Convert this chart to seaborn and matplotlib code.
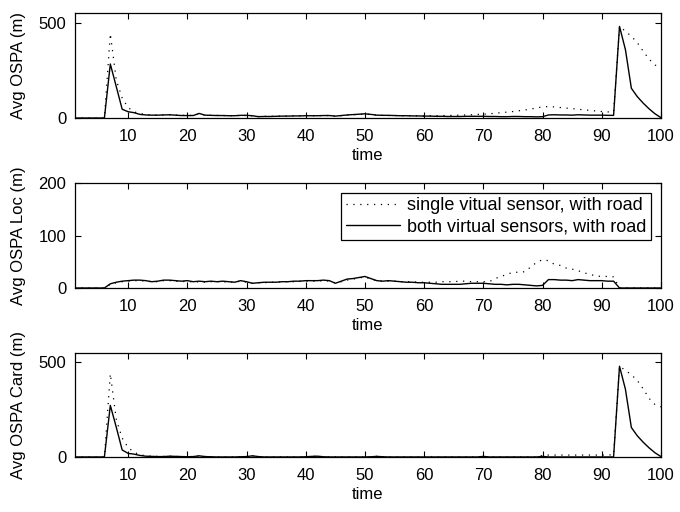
import numpy as np
import pandas as pd
import matplotlib
matplotlib.use("Agg")
import matplotlib.pyplot as plt
import seaborn as sns

# time steps
time = list(range(1, 101))

# Avg OSPA (m)
ospa_single = [
    0, 0, 0, 0, 0, 0,
    442, 200, 105, 55, 32, 24,
    18, 16, 15, 17, 17, 15, 14, 14,
    13, 22, 15, 14, 14, 13, 12, 12, 14, 13,
    11, 8, 9, 9, 10, 10, 11, 11, 12, 12,
    12, 12, 13, 13, 10, 12, 15, 17, 19, 21,
    18, 15, 14, 13, 13, 12, 12, 12, 11, 11,
    12, 12, 13, 13, 14, 15, 16, 17, 19, 20,
    22, 25, 28, 31, 34, 38, 42, 47, 53, 58,
    60, 58, 55, 52, 49, 46, 43, 40, 37, 34, 32, 32,
    480, 455, 428, 395, 350, 308, 278, 262,
]
ospa_both = [
    0, 0, 0, 0, 0, 0,
    283, 165, 46, 33, 28, 19,
    16, 15, 15, 16, 17, 15, 13, 13,
    13, 24, 15, 14, 13, 13, 12, 12, 14, 14,
    12, 7, 8, 8, 9, 10, 10, 11, 11, 12,
    12, 12, 13, 13, 10, 13, 16, 18, 20, 22,
    19, 15, 14, 14, 13, 12, 12, 11, 11, 10,
    10, 9, 9, 8, 8, 8, 9, 9, 9, 9,
    8, 8, 7, 7, 8, 8, 7, 7, 6, 7,
    16, 17, 16, 16, 15, 17, 16, 15, 15, 15, 14, 14,
    480, 358, 156, 112, 78, 48, 22, 2,
]

# Avg OSPA Loc (m)
loc_single = [
    0, 0, 0, 0, 0, 0,
    7, 10, 12, 13, 14, 14,
    13, 12, 12, 14, 14, 13, 12, 13,
    11, 12, 11, 12, 12, 12, 11, 11, 13, 11,
    9, 10, 10, 11, 11, 12, 12, 12, 13, 13,
    13, 13, 14, 13, 10, 12, 15, 17, 19, 21,
    17, 14, 13, 13, 13, 12, 12, 12, 11, 11,
    11, 11, 12, 12, 12, 13, 13, 12, 12, 12,
    12, 18, 22, 26, 30, 30, 31, 40, 49, 54,
    52, 45, 43, 38, 36, 33, 29, 26, 23, 22, 22, 21,
    0, 0, 0, 0, 0, 0, 0, 0,
]
loc_both = [
    0, 0, 0, 0, 0, 0,
    8, 11, 13, 14, 15, 15,
    14, 12, 13, 15, 15, 14, 13, 14,
    12, 13, 12, 13, 12, 13, 12, 11, 14, 12,
    9, 10, 11, 11, 11, 12, 12, 13, 13, 14,
    14, 14, 15, 14, 9, 13, 17, 18, 20, 22,
    18, 14, 13, 14, 13, 12, 11, 11, 10, 10,
    9, 8, 7, 7, 7, 7, 8, 9, 9, 9,
    8, 7, 7, 6, 7, 7, 6, 5, 4, 5,
    16, 16, 15, 15, 14, 16, 15, 14, 14, 14, 13, 13,
    0, 0, 0, 0, 0, 0, 0, 0,
]

# Avg OSPA Card (m)
card_single = [
    0, 0, 0, 0, 0, 0,
    440, 200, 100, 50, 25, 12,
    6, 4, 3, 3, 4, 3, 2, 2,
    2, 5, 2, 1, 1, 0, 0, 0, 1, 2,
    5, 2, 0, 0, 0, 0, 0, 0, 0, 1,
    3, 4, 1, 0, 0, 0, 0, 0, 0, 0,
    1, 3, 1, 0, 0, 0, 0, 0, 0, 0,
    0, 0, 0, 0, 0, 0, 0, 0, 0, 3,
    0, 0, 0, 0, 0, 0, 0, 0, 0, 8,
    10, 10, 10, 10, 10, 10, 10, 10, 10, 10, 10, 12,
    480, 458, 435, 405, 360, 310, 277, 265,
]
card_both = [
    0, 0, 0, 0, 0, 0,
    273, 158, 37, 19, 15, 8,
    4, 3, 2, 2, 4, 3, 2, 1,
    2, 6, 2, 1, 0, 0, 0, 0, 1, 2,
    6, 2, 0, 0, 0, 0, 0, 0, 0, 1,
    3, 4, 1, 0, 0, 0, 0, 0, 0, 0,
    1, 3, 1, 0, 0, 0, 0, 0, 0, 0,
    0, 0, 0, 0, 0, 0, 0, 0, 0, 3,
    0, 0, 0, 0, 0, 0, 0, 0, 0, 3,
    0, 0, 0, 0, 0, 0, 0, 0, 0, 0, 0, 0,
    480, 358, 156, 112, 78, 48, 22, 2,
]

series_names = ["single vitual sensor, with road", "both virtual sensors, with road"]
x_ticks = [10, 20, 30, 40, 50, 60, 70, 80, 90, 100]

panels = [
    ("Avg OSPA (m)", ospa_single, ospa_both, (0, 550), [0, 500]),
    ("Avg OSPA Loc (m)", loc_single, loc_both, (0, 200), [0, 100, 200]),
    ("Avg OSPA Card (m)", card_single, card_both, (0, 550), [0, 500]),
]

sns.set_style("ticks", {"xtick.direction": "in", "ytick.direction": "in",
                        "text.color": "black", "axes.labelcolor": "black",
                        "xtick.color": "black", "ytick.color": "black",
                        "axes.edgecolor": "black"})
plt.rcParams["font.family"] = ["Liberation Sans", "DejaVu Sans"]
plt.rcParams["font.size"] = 12

fig = plt.figure(figsize=(6.8, 5.12), dpi=100)
boxes = [
    (0.110, 0.7695, 0.862, 0.205),
    (0.110, 0.4375, 0.862, 0.205),
    (0.110, 0.1075, 0.862, 0.203),
]

dotted = (0, (1, 4.5))
for i, ((ylab, s_single, s_both, ylim, yticks), box) in enumerate(zip(panels, boxes)):
    ax = fig.add_axes(box)
    df = pd.DataFrame({"time": time, series_names[0]: s_single, series_names[1]: s_both})
    sns.lineplot(data=df, x="time", y=series_names[0], ax=ax, color="black",
                 linewidth=0.9, linestyle=dotted, label=series_names[0] if i == 1 else None)
    sns.lineplot(data=df, x="time", y=series_names[1], ax=ax, color="black",
                 linewidth=1.0, linestyle="-", label=series_names[1] if i == 1 else None)
    ax.set_xlim(1, 100)
    ax.set_ylim(*ylim)
    ax.set_xticks(x_ticks)
    ax.set_yticks(yticks)
    ax.set_xlabel("time", fontsize=12, labelpad=3, color="black")
    ax.set_ylabel(ylab, fontsize=12, labelpad=9, color="black")
    ax.tick_params(axis="both", which="both", direction="in", top=True, right=True,
                   length=4, width=0.8, labelsize=12, color="black", labelcolor="black")
    ax.tick_params(axis="x", pad=8)
    ax.tick_params(axis="y", pad=6)
    for sp in ax.spines.values():
        sp.set_visible(True)
        sp.set_color("black")
        sp.set_linewidth(0.9)
    if i == 1:
        leg = ax.legend(loc="upper right", fontsize=13, frameon=True, fancybox=False,
                        edgecolor="black", framealpha=1, handlelength=3.0,
                        borderpad=0.25, labelspacing=0.2, handletextpad=0.4,
                        borderaxespad=0.55)
        leg.get_frame().set_linewidth(0.9)
        for txt in leg.get_texts():
            txt.set_color("black")
    elif ax.get_legend() is not None:
        ax.get_legend().remove()

fig.savefig("out.png", dpi=100)
